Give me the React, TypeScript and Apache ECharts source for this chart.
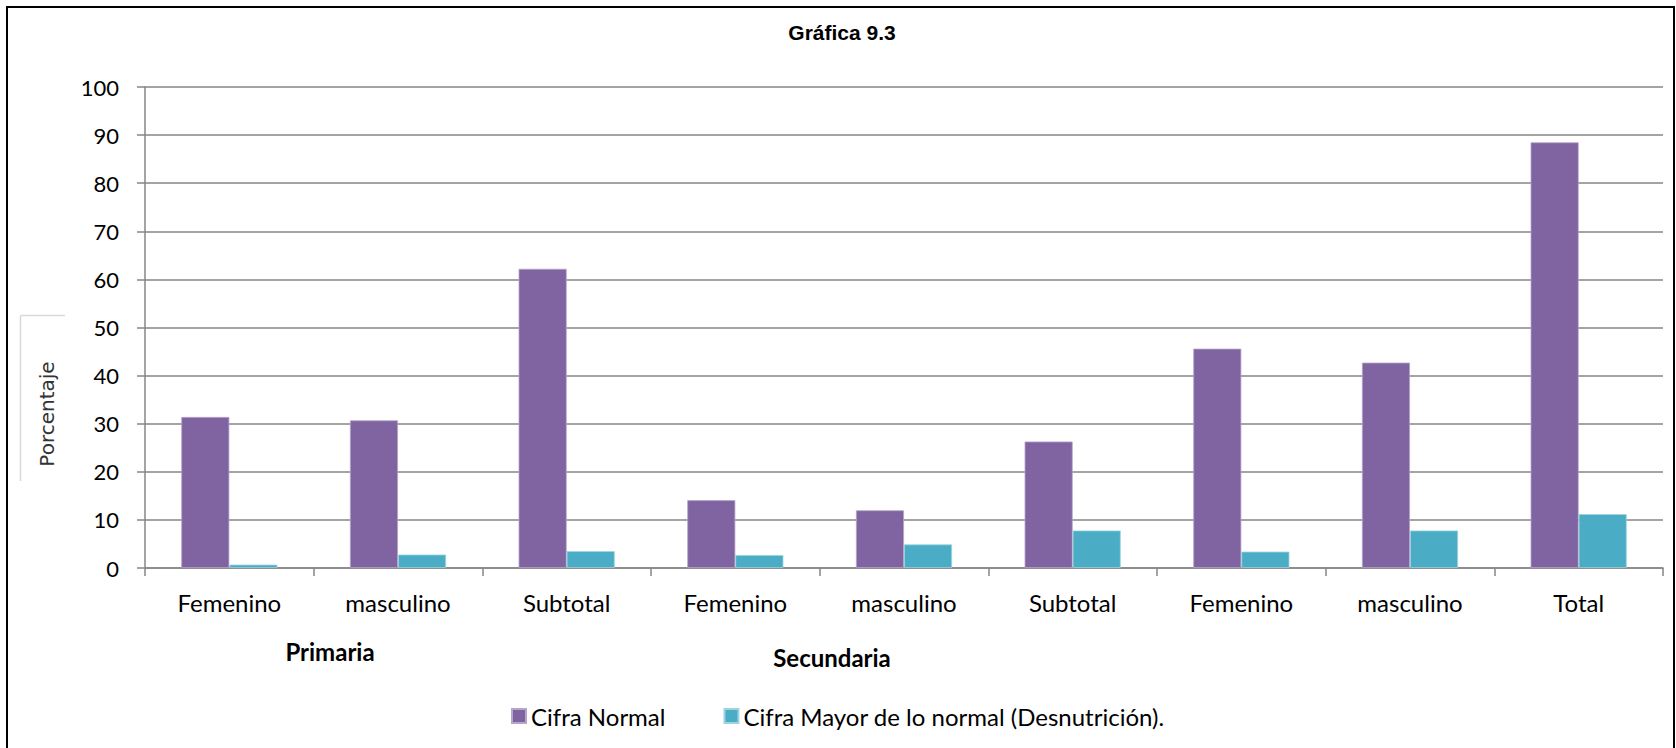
import React, { useEffect, useRef } from "react";
import * as echarts from "echarts";

const categories = ["Femenino", "masculino", "Subtotal", "Femenino", "masculino", "Subtotal", "Femenino", "masculino", "Total"];
const seriesNames = ["Cifra Normal", "Cifra Mayor de lo normal (Desnutrición)."];
const cifraNormal = [31.4, 30.7, 62.2, 14.1, 12.0, 26.3, 45.6, 42.7, 88.5];
const cifraMayor = [0.7, 2.8, 3.5, 2.7, 4.9, 7.8, 3.4, 7.8, 11.2];
const yMin = 0;
const yMax = 100;
const yInterval = 10;
const chartTitle = "Gráfica 9.3";
const yAxisTitle = "Porcentaje";
const groupLabels = ["Primaria", "Secundaria"];

const W = 1676;
const H = 748;

export default function App() {
  const ref = useRef<HTMLDivElement>(null);
  useEffect(() => {
    document.body.style.margin = "0";
    document.body.style.overflow = "hidden";
    const chart = echarts.init(ref.current!, null, { renderer: "svg" });
    const font = "Lato, 'Noto Sans', sans-serif";
    const gridColor = "#868686";
    chart.setOption({
      animation: false,
      backgroundColor: "#ffffff",
      textStyle: { fontFamily: font },
      grid: { left: 145, right: W - 1663, top: 87, bottom: H - 568, containLabel: false },
      legend: {
        left: 511,
        top: 704,
        padding: 0,
        icon: "rect",
        itemWidth: 14,
        itemHeight: 14,
        itemGap: 58,
        textStyle: { fontFamily: font, fontSize: 24, color: "#000" },
        data: seriesNames,
      },
      xAxis: {
        type: "category",
        data: categories,
        axisLine: { lineStyle: { color: gridColor, width: 1.5 } },
        axisTick: { show: true, length: 8, lineStyle: { color: gridColor, width: 1.5 } },
        axisLabel: { interval: 0, margin: 22, fontSize: 24, color: "#000", fontFamily: font },
      },
      yAxis: {
        type: "value",
        min: yMin,
        max: yMax,
        interval: yInterval,
        axisLine: { show: true, lineStyle: { color: gridColor, width: 1.5 } },
        axisTick: { show: true, length: 8, lineStyle: { color: gridColor, width: 1.5 } },
        axisLabel: { margin: 26, fontSize: 22, color: "#000", fontFamily: font },
        splitLine: { show: true, lineStyle: { color: gridColor, width: 1.5 } },
      },
      series: [
        {
          name: seriesNames[0],
          type: "bar",
          data: cifraNormal,
          barGap: "0%",
          barCategoryGap: "43%",
          itemStyle: { color: "#8064A2", borderColor: "#b6a6cc", borderWidth: 0.8 },
        },
        {
          name: seriesNames[1],
          type: "bar",
          data: cifraMayor,
          barGap: "0%",
          barCategoryGap: "43%",
          itemStyle: { color: "#4BACC6", borderColor: "#9fd3e0", borderWidth: 0.8 },
        },
      ],
      graphic: [
        {
          type: "rect",
          shape: { x: 7, y: 7, width: 1667, height: 770 },
          style: { fill: "none", stroke: "#000", lineWidth: 2 },
          silent: true,
        },
        {
          type: "text",
          x: 842,
          y: 32,
          style: {
            text: chartTitle,
            fontFamily: "'Liberation Sans', Arial, sans-serif",
            fontWeight: "bold",
            fontSize: 21,
            fill: "#000",
            textAlign: "center",
            textVerticalAlign: "middle",
          },
        },
        {
          type: "line",
          shape: { x1: 20.5, y1: 315.5, x2: 65, y2: 315.5 },
          style: { stroke: "#d9d9d9", lineWidth: 1.5 },
        },
        {
          type: "line",
          shape: { x1: 20.5, y1: 315.5, x2: 20.5, y2: 481 },
          style: { stroke: "#d9d9d9", lineWidth: 1.5 },
        },
        {
          type: "text",
          x: 47,
          y: 414,
          rotation: Math.PI / 2,
          style: {
            text: yAxisTitle,
            fontFamily: "'DejaVu Sans', sans-serif",
            fontSize: 20,
            fill: "#333",
            textAlign: "center",
            textVerticalAlign: "middle",
          },
        },
        {
          type: "text",
          x: 330,
          y: 651,
          style: {
            text: groupLabels[0],
            fontFamily: font,
            fontWeight: "bold",
            fontSize: 24,
            fill: "#000",
            textAlign: "center",
            textVerticalAlign: "middle",
          },
        },
        {
          type: "text",
          x: 832,
          y: 657,
          style: {
            text: groupLabels[1],
            fontFamily: font,
            fontWeight: "bold",
            fontSize: 24,
            fill: "#000",
            textAlign: "center",
            textVerticalAlign: "middle",
          },
        },
      ],
    });
    return () => chart.dispose();
  }, []);
  return <div ref={ref} style={{ width: W, height: H }} />;
}
